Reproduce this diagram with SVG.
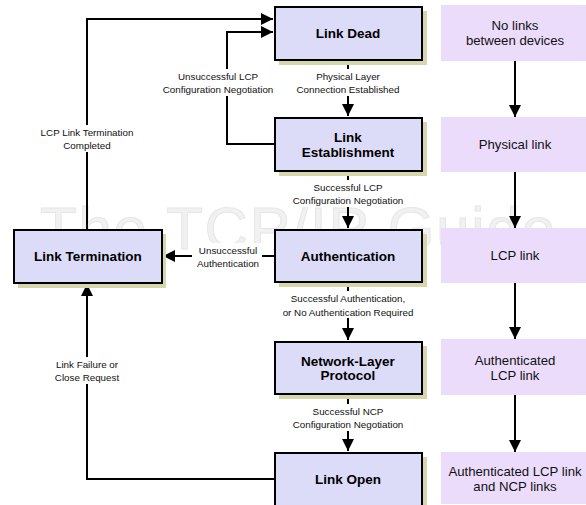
<svg xmlns="http://www.w3.org/2000/svg" width="586" height="505" viewBox="0 0 586 505">
<defs>
<marker id="ah" markerWidth="12" markerHeight="12" viewBox="0 0 12 12" refX="12" refY="6" orient="auto" markerUnits="userSpaceOnUse">
<path d="M0,0 L12,6 L0,12 Z" fill="#000"/>
</marker>
</defs>
<style>
.wm{font-family:"Liberation Sans",Arial,sans-serif;font-size:60px;fill:#f1f1f1;stroke:#e6e6e6;stroke-width:1}
.shadow{fill:#d6d6ac}
.node{fill:#dcdcf8;stroke:#000;stroke-width:2}
.nt{font-family:"Liberation Sans",Arial,sans-serif;font-size:13.5px;font-weight:bold;fill:#000;text-anchor:middle}
.side{fill:#ecdcfc}
.st{font-family:"Liberation Sans",Arial,sans-serif;font-size:13.2px;fill:#111;text-anchor:middle}
.ln{fill:none;stroke:#000;stroke-width:2}
.lb{font-family:"Liberation Sans",Arial,sans-serif;font-size:9.8px;fill:#111;text-anchor:middle}
.bg{fill:#fff}
</style>
<rect width="586" height="505" fill="#fff"/>
<text class="wm" x="40" y="249" textLength="515" lengthAdjust="spacing">The TCP/IP Guide</text>

<g id="side-boxes">
<g id="s1"><rect class="side" x="441" y="5" width="145" height="56"/><text class="st" x="515" y="30">No links</text><text class="st" x="515" y="45">between devices</text></g>
<g id="s2"><rect class="side" x="441" y="117" width="145" height="55"/><text class="st" x="515" y="149">Physical link</text></g>
<g id="s3"><rect class="side" x="441" y="228" width="145" height="55"/><text class="st" x="515" y="260">LCP link</text></g>
<g id="s4"><rect class="side" x="441" y="339" width="145" height="56"/><text class="st" x="515" y="365">Authenticated</text><text class="st" x="515" y="380">LCP link</text></g>
<g id="s5"><rect class="side" x="441" y="452" width="145" height="52"/><text class="st" x="515" y="476">Authenticated LCP link</text><text class="st" x="515" y="491">and NCP links</text></g>
</g>

<g id="connectors">
<line class="ln" x1="515" y1="61" x2="515" y2="117" marker-end="url(#ah)"/>
<line class="ln" x1="515" y1="172" x2="515" y2="228" marker-end="url(#ah)"/>
<line class="ln" x1="515" y1="283" x2="515" y2="339" marker-end="url(#ah)"/>
<line class="ln" x1="515" y1="395" x2="515" y2="452" marker-end="url(#ah)"/>

<line class="ln" x1="348" y1="60" x2="348" y2="116" marker-end="url(#ah)"/>
<line class="ln" x1="348" y1="171" x2="348" y2="228" marker-end="url(#ah)"/>
<line class="ln" x1="348" y1="282" x2="348" y2="340" marker-end="url(#ah)"/>
<line class="ln" x1="348" y1="394" x2="348" y2="451" marker-end="url(#ah)"/>

<polyline class="ln" points="87,229 87,19 273,19" marker-end="url(#ah)"/>
<polyline class="ln" points="274,144 227,144 227,32 273,32" marker-end="url(#ah)"/>
<line class="ln" x1="274" y1="256" x2="163" y2="256" marker-end="url(#ah)"/>
<polyline class="ln" points="274,479 87,479 87,284" marker-end="url(#ah)"/>

<rect class="bg" x="290" y="69" width="116" height="27"/>
<text class="lb" x="348" y="80">Physical Layer</text>
<text class="lb" x="348" y="93">Connection Established</text>

<rect class="bg" x="160" y="69" width="116" height="27"/>
<text class="lb" x="218" y="80">Unsuccessful LCP</text>
<text class="lb" x="218" y="93">Configuration Negotiation</text>

<rect class="bg" x="32" y="125" width="110" height="27"/>
<text class="lb" x="87" y="136">LCP Link Termination</text>
<text class="lb" x="87" y="149">Completed</text>

<rect class="bg" x="290" y="180" width="116" height="27"/>
<text class="lb" x="348" y="191">Successful LCP</text>
<text class="lb" x="348" y="204">Configuration Negotiation</text>

<rect class="bg" x="192" y="243" width="70" height="27"/>
<text class="lb" x="228" y="254">Unsuccessful</text>
<text class="lb" x="228" y="267">Authentication</text>

<rect class="bg" x="276" y="291" width="144" height="27"/>
<text class="lb" x="348" y="302">Successful Authentication,</text>
<text class="lb" x="348" y="316">or No Authentication Required</text>

<rect class="bg" x="52" y="357" width="70" height="27"/>
<text class="lb" x="87" y="368">Link Failure or</text>
<text class="lb" x="87" y="381">Close Request</text>

<rect class="bg" x="290" y="404" width="116" height="27"/>
<text class="lb" x="348" y="415">Successful NCP</text>
<text class="lb" x="348" y="428">Configuration Negotiation</text>
</g>

<g id="link-dead"><rect class="shadow" x="279" y="11" width="148" height="54"/><rect class="node" x="275" y="7" width="147" height="53"/><text class="nt" x="348" y="38">Link Dead</text></g>
<g id="link-establishment"><rect class="shadow" x="279" y="122" width="148" height="54"/><rect class="node" x="275" y="118" width="147" height="53"/><text class="nt" x="348" y="142">Link</text><text class="nt" x="348" y="157">Establishment</text></g>
<g id="authentication"><rect class="shadow" x="279" y="234" width="148" height="53"/><rect class="node" x="275" y="230" width="147" height="52"/><text class="nt" x="348" y="261">Authentication</text></g>
<g id="network-layer"><rect class="shadow" x="279" y="346" width="148" height="53"/><rect class="node" x="275" y="342" width="147" height="52"/><text class="nt" x="348" y="366">Network-Layer</text><text class="nt" x="348" y="380">Protocol</text></g>
<g id="link-open"><rect class="shadow" x="279" y="457" width="148" height="54"/><rect class="node" x="275" y="453" width="147" height="54"/><text class="nt" x="348" y="484">Link Open</text></g>
<g id="link-termination"><rect class="shadow" x="18" y="234" width="148" height="54"/><rect class="node" x="14" y="230" width="148" height="53"/><text class="nt" x="88" y="261">Link Termination</text></g>
</svg>
